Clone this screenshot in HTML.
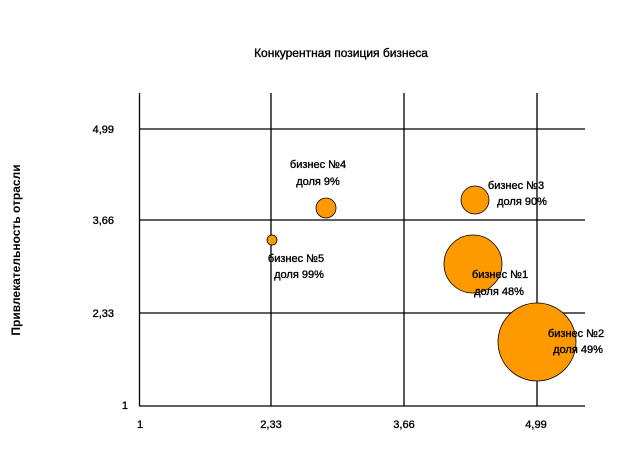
<!DOCTYPE html>
<html><head><meta charset="utf-8"><style>
body{margin:0;background:#fff;}
svg text{font-family:"Liberation Sans",Arial,sans-serif;font-size:11px;fill:#000;stroke:#000;stroke-width:0.35;}
</style></head><body>
<svg width="623" height="448" xmlns="http://www.w3.org/2000/svg">
<rect width="623" height="448" fill="#fff"/>
<text x="341" y="57" text-anchor="middle" style="font-size:12px">Конкурентная позиция бизнеса</text>
<text transform="translate(20,250) rotate(-90)" text-anchor="middle" style="font-size:12px;font-weight:bold;stroke-width:0">Привлекательность отрасли</text>
<g stroke="#000" stroke-width="1.3" fill="none">
<line x1="139.5" y1="93" x2="139.5" y2="406"/>
<line x1="139" y1="406" x2="585" y2="406"/>
<line x1="139" y1="129" x2="585" y2="129"/>
<line x1="139" y1="220" x2="585" y2="220"/>
<line x1="139" y1="313" x2="585" y2="313"/>
<line x1="271" y1="93" x2="271" y2="406"/>
<line x1="404" y1="93" x2="404" y2="406"/>
<line x1="537" y1="93" x2="537" y2="406"/>
</g>
<g fill="#ff9900" stroke="#000" stroke-width="0.8">
<circle cx="537" cy="342" r="39"/>
<circle cx="473" cy="264" r="29"/>
<circle cx="475" cy="200" r="14"/>
<circle cx="326" cy="208" r="10"/>
<circle cx="272" cy="240" r="5"/>
</g>
<g text-anchor="end">
<text x="114" y="133">4,99</text>
<text x="114" y="224">3,66</text>
<text x="114" y="317">2,33</text>
<text x="128" y="409">1</text>
</g>
<g text-anchor="middle">
<text x="140" y="428">1</text>
<text x="271" y="428">2,33</text>
<text x="404" y="428">3,66</text>
<text x="536" y="428">4,99</text>
<text x="318" y="168">бизнес №4</text>
<text x="318" y="185">доля 9%</text>
<text x="296" y="262">бизнес №5</text>
<text x="299" y="278">доля 99%</text>
<text x="516" y="189">бизнес №3</text>
<text x="522" y="205">доля 90%</text>
<text x="500" y="278">бизнес №1</text>
<text x="499" y="295">доля 48%</text>
<text x="576" y="337">бизнес №2</text>
<text x="578" y="353">доля 49%</text>
</g>
</svg>
</body></html>
